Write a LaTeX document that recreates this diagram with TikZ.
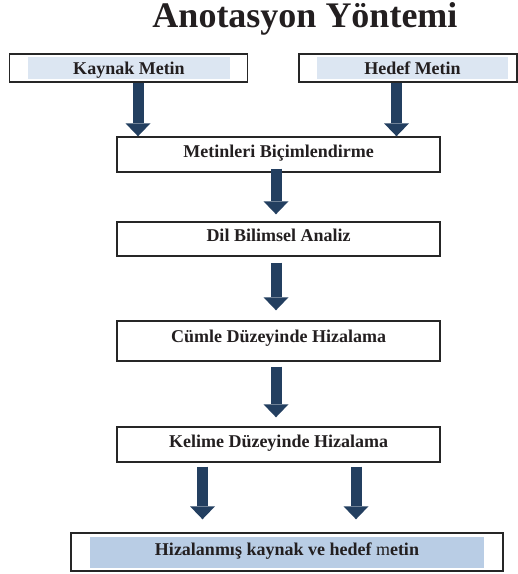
\documentclass[tikz,border=0pt]{standalone}
\usepackage{fontspec}
\setmainfont{Liberation Serif}
\usetikzlibrary{arrows.meta}
\definecolor{textdark}{RGB}{35,31,32}
\definecolor{arrowblue}{RGB}{35,63,96}
\definecolor{lightfill}{RGB}{220,230,242}
\definecolor{midfill}{RGB}{185,205,229}
\tikzset{box/.style = {draw = black!85, line width = 1.4pt, inner sep = 0,
                       font = \fontsize{18}{20}\selectfont\bfseries, text = textdark,
                       text height = 12pt, text depth = 7pt}}
\tikzset{fillbox/.style = {inner sep = 0, font = \fontsize{18}{20}\selectfont\bfseries,
                           text = textdark, text height = 12pt, text depth = 0pt}}
\tikzset{bigarrow/.style = {draw = arrowblue, line width = 11pt,
                            -{Triangle[width = 25pt, length = 13pt, line width = 0pt, fill = arrowblue]}}}

\begin{document}
\begin{tikzpicture}[x = 1pt, y = -1pt]
      \useasboundingbox (0, 0) rectangle (518, 574);
      \node [anchor = base, font = \fontsize{36}{40}\selectfont\bfseries, text = textdark] (baslik) at (305, 27) {Anotasyon Yöntemi};
      \node [box, minimum width = 238pt, minimum height = 28pt] (kaynak) at (128.75, 68) {};
      \node [fillbox, fill = lightfill, minimum width = 202pt, minimum height = 22pt] (kaynaktxt) at (129, 68) {Kaynak Metin};
      \node [box, minimum width = 218pt, minimum height = 28pt] (hedef) at (408, 68) {};
      \node [fillbox, fill = lightfill, minimum width = 191pt, minimum height = 22pt] (hedeftxt) at (412.5, 68) {Hedef Metin};
      \node [box, minimum width = 323pt, minimum height = 35pt] (bicim) at (278.5, 154.5) {Metinleri Biçimlendirme};
      \node [box, minimum width = 323pt, minimum height = 34pt] (analiz) at (278.5, 239) {Dil Bilimsel Analiz};
      \node [box, minimum width = 323pt, minimum height = 40pt, text depth = 9pt] (cumle) at (278.5, 341) {Cümle Düzeyinde Hizalama};
      \node [box, minimum width = 323pt, minimum height = 35pt] (kelime) at (278.5, 444.5) {Kelime Düzeyinde Hizalama};
      \node [box, minimum width = 432pt, minimum height = 38pt] (sonuc) at (287, 552) {};
      \node [fillbox, fill = midfill, minimum width = 394pt, minimum height = 31pt, text depth = 7pt] (sonuctxt) at (287, 552.5) {Hizalanmış kaynak ve hedef {\mdseries m}etin};
      \coordinate (k1) at ([xshift = 9.25pt] kaynak.south);
      \coordinate (h1) at ([xshift = -11.5pt] hedef.south);
      \coordinate (b1) at ([xshift = -2.5pt] bicim.south);
      \coordinate (a1) at ([xshift = -2.5pt] analiz.south);
      \coordinate (c1) at ([xshift = -2.5pt] cumle.south);
      \coordinate (s1) at ([xshift = -76pt] kelime.south);
      \coordinate (s2) at ([xshift = 77.5pt] kelime.south);
      \draw [bigarrow] (k1) -- (k1 |- bicim.north);
      \draw [bigarrow] (h1) -- (h1 |- bicim.north);
      \draw [bigarrow, shorten < = -4pt, shorten > = 7pt] (b1) -- (b1 |- analiz.north);
      \draw [bigarrow, shorten < = 6pt, shorten > = 10pt] (a1) -- (a1 |- cumle.north);
      \draw [bigarrow, shorten < = 5pt, shorten > = 9pt] (c1) -- (c1 |- kelime.north);
      \draw [bigarrow, shorten < = 4pt, shorten > = 13pt] (s1) -- (s1 |- sonuc.north);
      \draw [bigarrow, shorten < = 4pt, shorten > = 13pt] (s2) -- (s2 |- sonuc.north);
    \end{tikzpicture}
\end{document}
